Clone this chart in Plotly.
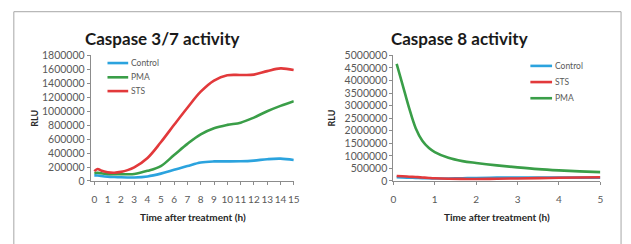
import plotly.graph_objects as go

# ---- Caspase 3/7 data ----
t37 = [0, 0.25, 0.5, 1, 1.5, 2, 2.5, 3, 4, 5, 6, 7, 8, 9, 10, 11, 12, 13, 14, 15]
control37 = [80000, 78000, 72000, 62000, 56000, 52000, 50000, 50000, 65000, 105000, 159000, 214000, 265000, 280000, 280000, 282000, 292000, 312000, 320000, 300000]
pma37 = [115000, 118000, 110000, 100000, 96000, 95000, 96000, 100000, 145000, 214000, 372000, 532000, 668000, 755000, 804000, 836000, 909000, 1000000, 1077000, 1145000]
sts37 = [140000, 172000, 150000, 125000, 118000, 130000, 155000, 195000, 330000, 555000, 805000, 1050000, 1280000, 1440000, 1515000, 1520000, 1525000, 1575000, 1615000, 1590000]

# ---- Caspase 8 data ----
t8 = [0.08, 0.22, 0.38, 0.54, 0.7, 0.86, 1.0, 1.33, 1.67, 2.0, 2.5, 3.0, 3.5, 4.0, 4.5, 5.0]
control8 = [150000, 140000, 130000, 120000, 110000, 105000, 100000, 100000, 110000, 120000, 135000, 140000, 138000, 135000, 133000, 132000]
sts8 = [200000, 185000, 170000, 155000, 140000, 120000, 105000, 88000, 82000, 80000, 88000, 100000, 112000, 125000, 138000, 150000]
pma8 = [4660000, 3850000, 2910000, 2100000, 1600000, 1310000, 1150000, 920000, 790000, 715000, 620000, 540000, 470000, 420000, 380000, 350000]

x37_ticks = list(range(0, 16))
x8_ticks = list(range(0, 6))

legend37 = ["Control", "PMA", "STS"]
legend8 = ["Control", "STS", "PMA"]

BLUE = "#2BA3DE"
GREEN = "#3A9E48"
RED = "#E2393B"
GRAY_TXT = "#595959"
AXIS = "#8C8C8C"
FONT = "Lato"

W, H = 631, 244
def px(x):
    return x / W
def py(y):
    return 1 - y / H

fig = go.Figure()

lw = 2.6
series37 = {"Control": (control37, BLUE), "PMA": (pma37, GREEN), "STS": (sts37, RED)}
series8 = {"Control": (control8, BLUE), "STS": (sts8, RED), "PMA": (pma8, GREEN)}

for name in legend37:
    vals, col = series37[name]
    fig.add_trace(go.Scatter(x=t37, y=vals, name=name, mode="lines",
                             line=dict(color=col, width=lw, shape="spline"), xaxis="x", yaxis="y", showlegend=False))
for name in legend8:
    vals, col = series8[name]
    fig.add_trace(go.Scatter(x=t8, y=vals, name=name, mode="lines",
                             line=dict(color=col, width=lw, shape="spline"), xaxis="x2", yaxis="y2", showlegend=False))

tickfont = dict(family=FONT, size=10.5, color=GRAY_TXT)
xtickfont = dict(family=FONT, size=10, color=GRAY_TXT)
axcommon = dict(showgrid=False, zeroline=False, showline=True, linecolor=AXIS, linewidth=1,
                ticks="outside", ticklen=3, tickcolor=AXIS, fixedrange=True)

fig.update_layout(
    width=W, height=H,
    margin=dict(l=0, r=0, t=0, b=0),
    paper_bgcolor="white", plot_bgcolor="white",
    font=dict(family=FONT, color=GRAY_TXT),
    xaxis=dict(domain=[px(89), px(295)], range=[-0.27, 15], tickvals=x37_ticks, anchor="y",
               tickangle=0, tickfont=xtickfont, ticklabelstandoff=6, **axcommon),
    yaxis=dict(domain=[py(184), py(52)], range=[0, 1800000], dtick=200000, tickformat="d", anchor="x",
               tickfont=tickfont, **axcommon),
    xaxis2=dict(domain=[px(396), px(606)], range=[0, 5], tickvals=x8_ticks, anchor="y2",
                tickangle=0, tickfont=xtickfont, ticklabelstandoff=6, **axcommon),
    yaxis2=dict(domain=[py(184), py(52)], range=[0, 5000000], dtick=500000, tickformat="d", anchor="x2",
                tickfont=tickfont, **axcommon),
    showlegend=False,
)

ann = []
shapes = []
ann.append(dict(text="<b>Caspase 3/7 activity</b>", x=px(161), y=py(34), xref="paper", yref="paper",
                showarrow=False, font=dict(family=FONT, size=17, color="#1a1a1a"), xanchor="center", yanchor="middle"))
ann.append(dict(text="<b>Caspase 8 activity</b>", x=px(463), y=py(34), xref="paper", yref="paper",
                showarrow=False, font=dict(family=FONT, size=17, color="#1a1a1a"), xanchor="center", yanchor="middle"))
for xx in (32, 333):
    ann.append(dict(text="<b>RLU</b>", x=px(xx), y=py(118), xref="paper", yref="paper", textangle=-90,
                    showarrow=False, font=dict(family=FONT, size=9, color="#262626"), xanchor="center", yanchor="middle"))
for xx in (193, 501):
    ann.append(dict(text="<b>Time after treatment (h)</b>", x=px(xx), y=py(222), xref="paper", yref="paper",
                    showarrow=False, font=dict(family=FONT, size=10, color="#262626"), xanchor="center", yanchor="middle"))

# legends (keys drawn as short line swatches + text)
def add_legend(names, colors, x0, x1, ys):
    for nm, col, yy in zip(names, colors, ys):
        shapes.append(dict(type="line", xref="paper", yref="paper", x0=px(x0), x1=px(x1), y0=py(yy), y1=py(yy),
                           line=dict(color=col, width=2.6)))
        ann.append(dict(text=nm, x=px(x1 + 0.5), y=py(yy), xref="paper", yref="paper", showarrow=False,
                        font=dict(family=FONT, size=8.5, color=GRAY_TXT), xanchor="left", yanchor="middle"))

add_legend(legend37, [series37[n][1] for n in legend37], 106, 127, [60, 75, 89.5])
add_legend(legend8, [series8[n][1] for n in legend8], 535, 557, [63, 80, 97])

shapes.append(dict(type="rect", xref="paper", yref="paper", x0=px(11), x1=px(627), y0=-0.2, y1=py(6),
                   line=dict(color="#A6A6A6", width=1), fillcolor="rgba(0,0,0,0)", layer="below"))
fig.update_layout(annotations=ann, shapes=shapes)

fig.write_html("out.html", config={"displayModeBar": False, "staticPlot": True},
               post_script="document.body.style.margin='0px';")
